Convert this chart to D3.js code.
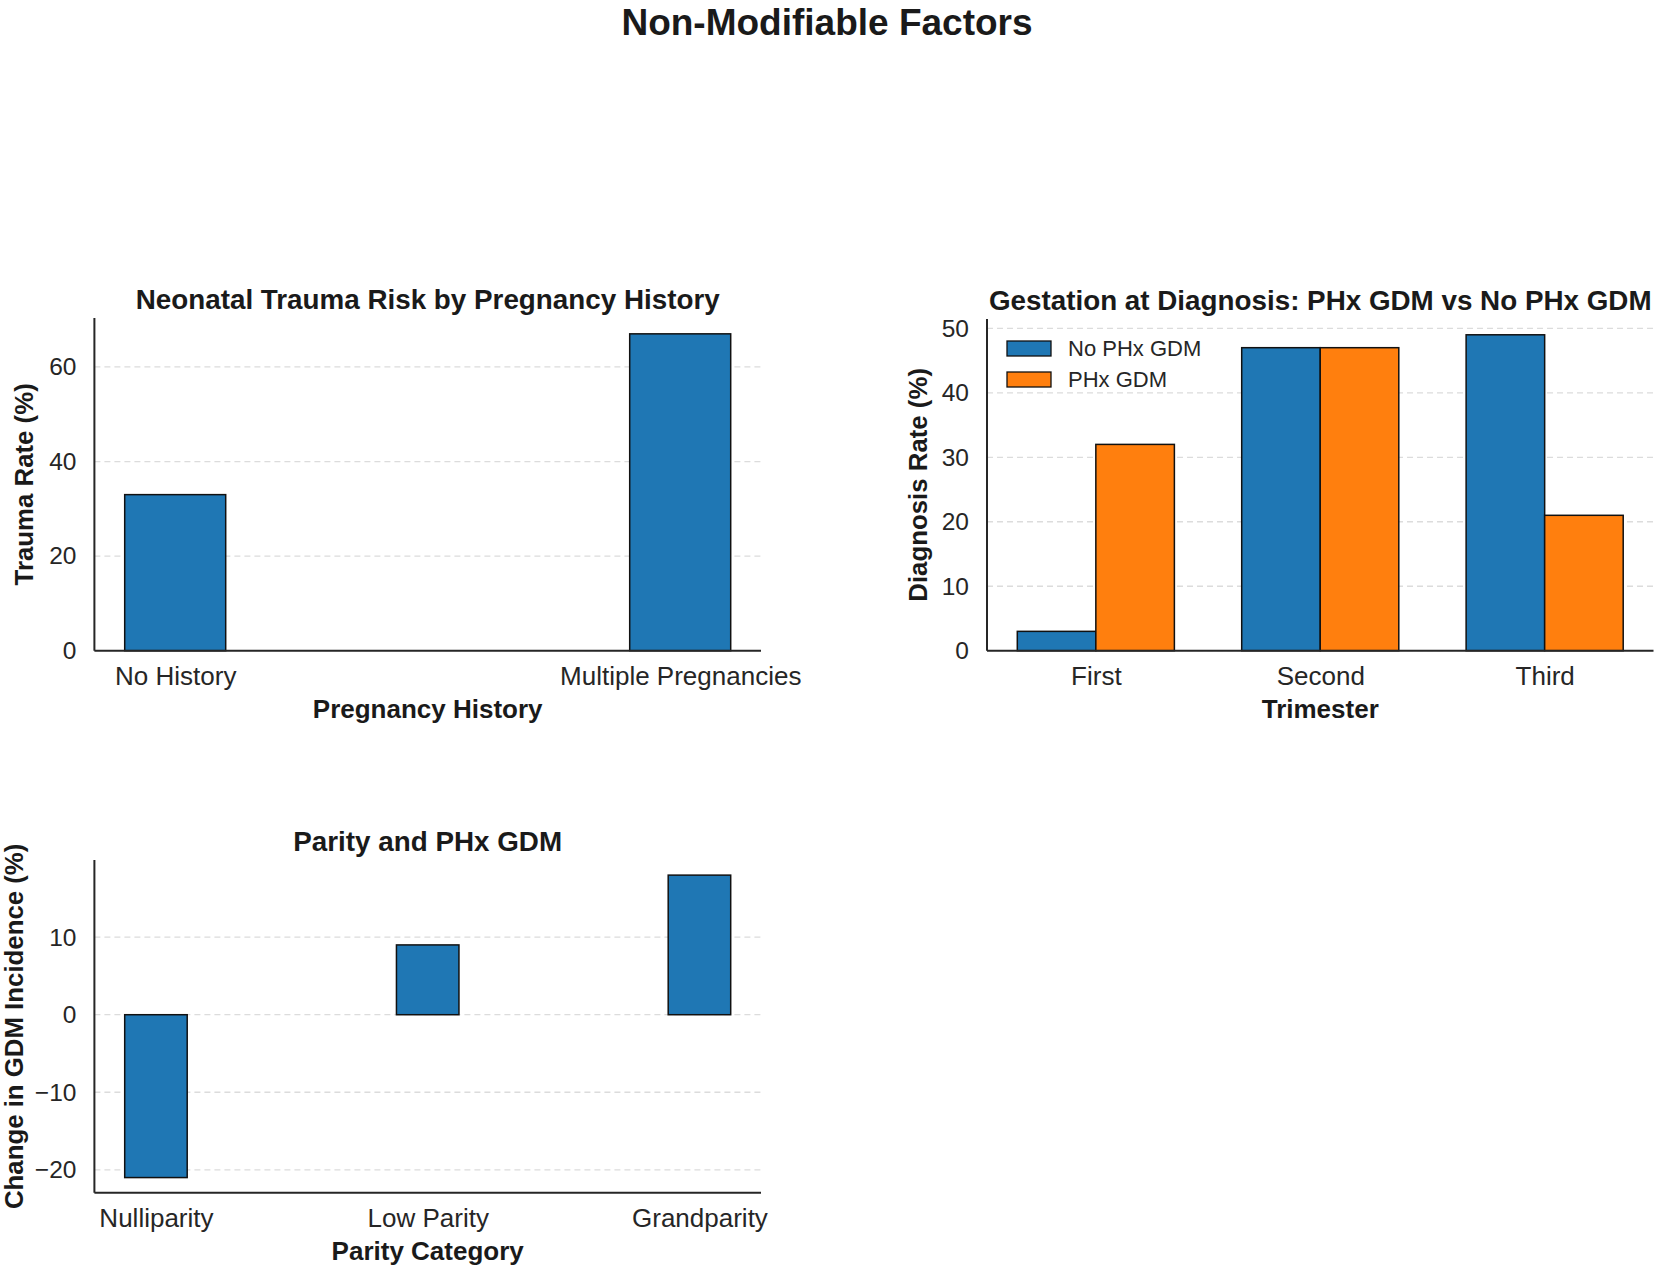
<!DOCTYPE html>
<html>
<head>
<meta charset="utf-8">
<script src="https://cdn.jsdelivr.net/npm/d3@7"></script>
<style>
  html, body { margin: 0; padding: 0; background: #fff; }
  svg { display: block; font-family: "Liberation Sans", Arial, Helvetica, sans-serif; }
</style>
</head>
<body>
<svg id="chart" width="1654" height="1266"></svg>
<script>
// ---------------- DATA ----------------
const historyCategories = ["No History", "Multiple Pregnancies"];
const traumaRates = [33, 67];
const traumaTicks = [0, 20, 40, 60];

const trimesters = ["First", "Second", "Third"];
const noPhxGdm = [3, 47, 49];
const phxGdm = [32, 47, 21];
const seriesNames = ["No PHx GDM", "PHx GDM"];
const diagnosisTicks = [0, 10, 20, 30, 40, 50];

const parityCategories = ["Nulliparity", "Low Parity", "Grandparity"];
const parityChange = [-21, 9, 18];
const parityTicks = [-20, -10, 0, 10];

// ---------------- STYLE ----------------
const BLUE = "#1f77b4", ORANGE = "#ff7f0e";
const TXT = "#262626";
const svg = d3.select("#chart");

svg.append("text")
  .attr("x", 827).attr("y", 34.5)
  .attr("text-anchor", "middle")
  .attr("font-size", 37).attr("font-weight", "bold").attr("fill", "#1a1a1a")
  .text("Non-Modifiable Factors");

// matplotlib-like autoscale helpers
function xDomain(n, w) {
  const lo = -w / 2, hi = n - 1 + w / 2, pad = 0.05 * (hi - lo);
  return [lo - pad, hi + pad];
}
function yDomain(vals) {
  const mn = Math.min(0, d3.min(vals)), mx = Math.max(0, d3.max(vals));
  const pad = 0.05 * (mx - mn);
  return [mn < 0 ? mn - pad : 0, mx > 0 ? mx + pad : 0];
}
const fmt = v => (v < 0 ? "\u2212" + Math.abs(v) : String(v));

function panel(opt) {
  const g = svg.append("g");
  const x = d3.scaleLinear().domain(opt.xdom).range([opt.left, opt.right]);
  const y = d3.scaleLinear().domain(opt.ydom).range([opt.bottom, opt.top]);

  // grid
  g.append("g").selectAll("line").data(opt.ticks).join("line")
    .attr("x1", opt.left).attr("x2", opt.right)
    .attr("y1", d => y(d)).attr("y2", d => y(d))
    .attr("stroke", "#dcdcdc").attr("stroke-width", 1.3)
    .attr("stroke-dasharray", "6,4");

  // y axis via d3
  const yAxis = d3.axisLeft(y).tickValues(opt.ticks).tickSize(0).tickPadding(18).tickFormat(fmt);
  const ya = g.append("g").attr("transform", `translate(${opt.left},0)`).call(yAxis);
  ya.select(".domain").remove();
  ya.selectAll("text").attr("font-size", 24.5).attr("fill", TXT)
    .attr("font-family", '"Liberation Sans", Arial, sans-serif');

  // x axis via d3 (tick labels)
  const xAxis = d3.axisBottom(x).tickValues(d3.range(opt.cats.length))
    .tickSize(0).tickPadding(0).tickFormat(i => opt.cats[i]);
  const xa = g.append("g").attr("transform", `translate(0,${opt.bottom})`).call(xAxis);
  xa.select(".domain").remove();
  xa.selectAll("text").attr("font-size", 26).attr("fill", TXT)
    .attr("dy", null).attr("y", 34.5)
    .attr("font-family", '"Liberation Sans", Arial, sans-serif');

  opt.draw(g, x, y);

  // spines
  g.append("line").attr("x1", opt.left).attr("x2", opt.left)
    .attr("y1", opt.top).attr("y2", opt.bottom)
    .attr("stroke", TXT).attr("stroke-width", 2);
  g.append("line").attr("x1", opt.left).attr("x2", opt.right)
    .attr("y1", opt.bottom).attr("y2", opt.bottom)
    .attr("stroke", TXT).attr("stroke-width", 2);

  // title
  g.append("text").attr("x", (opt.left + opt.right) / 2).attr("y", opt.top - 9.5)
    .attr("text-anchor", "middle").attr("font-size", 27.8).attr("font-weight", "bold")
    .attr("fill", "#1a1a1a").text(opt.title);
  // x label
  g.append("text").attr("x", (opt.left + opt.right) / 2).attr("y", Math.min(opt.bottom + 67, 1259.5))
    .attr("text-anchor", "middle").attr("font-size", 26).attr("font-weight", "bold")
    .attr("fill", "#1a1a1a").text(opt.xlabel);
  // y label
  g.append("text")
    .attr("transform", `translate(${opt.ylabelX},${(opt.top + opt.bottom) / 2}) rotate(-90)`)
    .attr("text-anchor", "middle").attr("font-size", 25.8).attr("font-weight", "bold")
    .attr("fill", "#1a1a1a").text(opt.ylabel);
  return { x, y };
}

// ---- Panel 1 ----
const w1 = 0.2;
panel({
  left: 94.4, right: 761, top: 318, bottom: 650.7,
  xdom: xDomain(historyCategories.length, w1), ydom: yDomain(traumaRates),
  ticks: traumaTicks, cats: historyCategories,
  title: "Neonatal Trauma Risk by Pregnancy History",
  xlabel: "Pregnancy History", ylabel: "Trauma Rate (%)", ylabelX: 33,
  draw: (g, x, y) => {
    g.selectAll("rect.b").data(traumaRates).join("rect").attr("class", "b")
      .attr("x", (d, i) => x(i - w1 / 2)).attr("width", (d, i) => x(i + w1 / 2) - x(i - w1 / 2))
      .attr("y", d => y(d)).attr("height", d => y(0) - y(d))
      .attr("fill", BLUE).attr("stroke", "#111").attr("stroke-width", 1.5);
  }
});

// ---- Panel 2 ----
const w2 = 0.35;
panel({
  left: 987, right: 1653.5, top: 319, bottom: 650.7,
  xdom: [-w2 - 0.05 * (2 + 2 * w2), 2 + w2 + 0.05 * (2 + 2 * w2)],
  ydom: yDomain(noPhxGdm.concat(phxGdm)),
  ticks: diagnosisTicks, cats: trimesters,
  title: "Gestation at Diagnosis: PHx GDM vs No PHx GDM",
  xlabel: "Trimester", ylabel: "Diagnosis Rate (%)", ylabelX: 927,
  draw: (g, x, y) => {
    const series = [noPhxGdm, phxGdm], cols = [BLUE, ORANGE], offs = [-w2 / 2, w2 / 2];
    series.forEach((vals, s) => {
      g.selectAll("rect.s" + s).data(vals).join("rect").attr("class", "s" + s)
        .attr("x", (d, i) => x(i + offs[s] - w2 / 2))
        .attr("width", (d, i) => x(i + offs[s] + w2 / 2) - x(i + offs[s] - w2 / 2))
        .attr("y", d => y(d)).attr("height", d => y(0) - y(d))
        .attr("fill", cols[s]).attr("stroke", "#111").attr("stroke-width", 1.5);
    });
    // legend
    const lg = g.append("g");
    seriesNames.forEach((name, s) => {
      lg.append("rect").attr("x", 1007).attr("y", 341 + s * 31).attr("width", 44).attr("height", 15)
        .attr("fill", cols[s]).attr("stroke", "#111").attr("stroke-width", 1.3);
      lg.append("text").attr("x", 1068).attr("y", 355.5 + s * 31)
        .attr("font-size", 22).attr("fill", TXT).text(name);
    });
  }
});

// ---- Panel 3 ----
const w3 = 0.23;
panel({
  left: 94.4, right: 761, top: 860, bottom: 1192.7,
  xdom: xDomain(parityCategories.length, w3), ydom: yDomain(parityChange),
  ticks: parityTicks, cats: parityCategories,
  title: "Parity and PHx GDM",
  xlabel: "Parity Category", ylabel: "Change in GDM Incidence (%)", ylabelX: 22.5,
  draw: (g, x, y) => {
    g.selectAll("rect.b").data(parityChange).join("rect").attr("class", "b")
      .attr("x", (d, i) => x(i - w3 / 2)).attr("width", (d, i) => x(i + w3 / 2) - x(i - w3 / 2))
      .attr("y", d => y(Math.max(0, d))).attr("height", d => Math.abs(y(0) - y(d)))
      .attr("fill", BLUE).attr("stroke", "#111").attr("stroke-width", 1.5);
  }
});
</script>
</body>
</html>
